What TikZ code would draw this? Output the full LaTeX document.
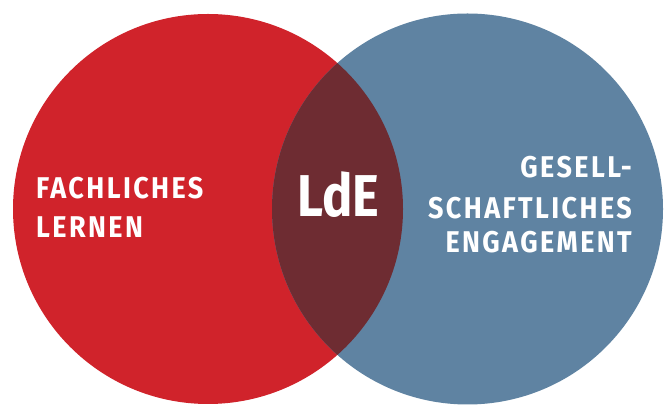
\documentclass[tikz,border=0pt]{standalone}
\usepackage{fontspec}
\setmainfont{Fira Sans}[BoldFont=* Bold]
\newfontfamily\lblfont{Fira Sans}[BoldFont=* Bold,LetterSpace=8,FakeStretch=0.9]
\newfontfamily\bigfont{Fira Sans}[BoldFont=* Bold,FakeStretch=0.86]
\definecolor{ldered}{HTML}{D0232B}
\definecolor{ldeblue}{HTML}{5F83A2}
\definecolor{ldelens}{HTML}{6E2C32}
\begin{document}
\begin{tikzpicture}[x=1pt,y=1pt,
  lbl/.style={inner sep=0pt,text=white,font=\lblfont\bfseries\fontsize{30}{32}\selectfont},
  big/.style={inner sep=0pt,text=white,font=\bigfont\bfseries\fontsize{59}{62}\selectfont}]
\useasboundingbox (0,0) rectangle (668,406);
\fill[white] (0,0) rectangle (668,406);
\fill[ldered] (208,197) circle[radius=195];
\fill[ldeblue] (467.5,197) circle[radius=195.5];
\begin{scope}
  \clip (208,197) circle[radius=195];
  \fill[ldelens] (467.5,197) circle[radius=195.5];
\end{scope}
\node[lbl,anchor=base west] (l1) at (36,207) {FACHLICHES};
\node[lbl,anchor=base west] (l2) at (36,168) {LERNEN};
\node[big,anchor=base] (lde) at (338.5,189) {LdE};
\node[lbl,anchor=base east] (r1) at (632,228) {GESELL-};
\node[lbl,anchor=base east] (r2) at (632,187) {SCHAFTLICHES};
\node[lbl,anchor=base east] (r3) at (632,153) {ENGAGEMENT};
\end{tikzpicture}
\end{document}
